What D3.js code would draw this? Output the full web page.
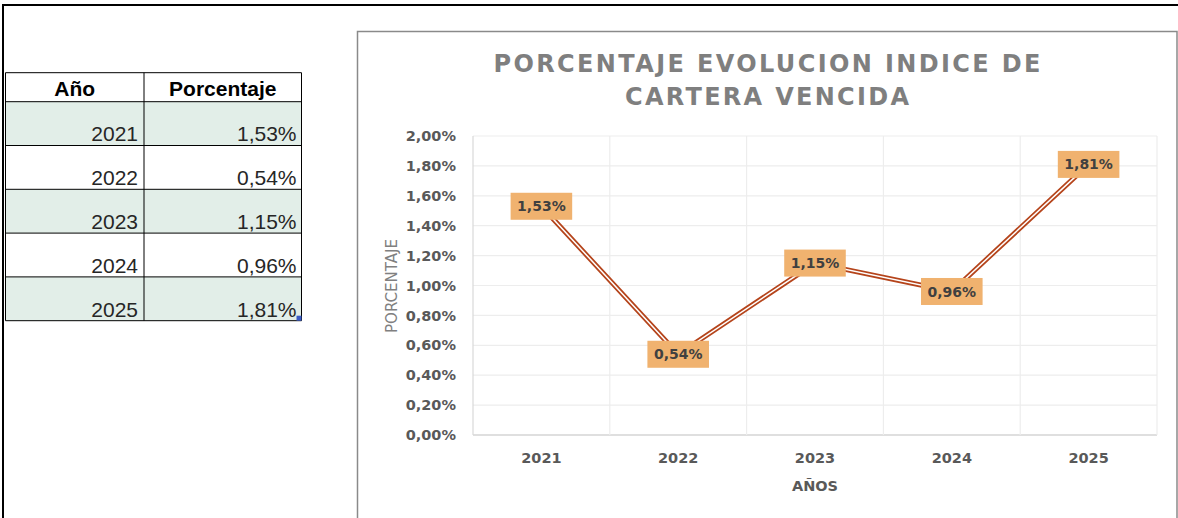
<!DOCTYPE html>
<html>
<head>
<meta charset="utf-8">
<script src="https://cdn.jsdelivr.net/npm/d3@7"></script>
<style>
  body { margin: 0; background: #fff; }
  svg { display: block; }
</style>
</head>
<body>
<div id="chart"></div>
<script>
// Data read from the sheet
var years  = ["2021", "2022", "2023", "2024", "2025"];
var values = [1.53, 0.54, 1.15, 0.96, 1.81];
var yTicks = [0, 0.2, 0.4, 0.6, 0.8, 1.0, 1.2, 1.4, 1.6, 1.8, 2.0];
var tableHeaders = ["Año", "Porcentaje"];
var titleLines = ["PORCENTAJE EVOLUCION INDICE DE", "CARTERA VENCIDA"];

var W = 1178, H = 518;

// Spanish number format: comma decimal
var es = d3.formatLocale({decimal: ",", thousands: ".", grouping: [3], currency: ["", "€"]});
var pct = function(v) { return es.format(".2f")(v) + "%"; };

var svg = d3.select('#chart').append('svg')
  .attr('width', W)
  .attr('height', H);

// Black frame of the screenshot
svg.append('line').attr('x1', 2).attr('x2', W).attr('y1', 5).attr('y2', 5)
  .attr('stroke', '#000').attr('stroke-width', 2);
svg.append('line').attr('x1', 3).attr('x2', 3).attr('y1', 4).attr('y2', H)
  .attr('stroke', '#000').attr('stroke-width', 2);

/*
 * Spreadsheet table on the left
 */
var tbl = {x0: 5.5, x1: 144, x2: 301.5, top: 72.7, headH: 29, rowH: 43.8};
var colX = [tbl.x0, tbl.x1, tbl.x2];
var table = svg.append('g').attr('class', 'table');

var rows = table.selectAll('g.row')
  .data(years.map(function(y, i) { return {year: y, value: values[i], i: i}; }))
  .enter().append('g')
  .attr('class', 'row')
  .attr('transform', function(d) { return 'translate(0,' + (tbl.top + tbl.headH + d.i * tbl.rowH) + ')'; });

rows.append('rect')
  .attr('x', tbl.x0).attr('width', tbl.x2 - tbl.x0)
  .attr('height', tbl.rowH)
  .attr('fill', function(d) { return d.i % 2 === 0 ? '#E2EEE8' : '#fff'; });

rows.append('text')
  .attr('x', tbl.x1 - 6).attr('y', tbl.rowH - 4)
  .attr('text-anchor', 'end')
  .style('font', '21px "Liberation Sans", Arial, sans-serif')
  .style('fill', '#262626')
  .text(function(d) { return d.year; });

rows.append('text')
  .attr('x', tbl.x2 - 5).attr('y', tbl.rowH - 4)
  .attr('text-anchor', 'end')
  .style('font', '21px "Liberation Sans", Arial, sans-serif')
  .style('fill', '#262626')
  .text(function(d) { return pct(d.value); });

table.selectAll('text.head')
  .data(tableHeaders)
  .enter().append('text')
  .attr('class', 'head')
  .attr('x', function(d, i) { return (colX[i] + colX[i + 1]) / 2; })
  .attr('y', tbl.top + 23)
  .attr('text-anchor', 'middle')
  .style('font', 'bold 21px "Liberation Sans", Arial, sans-serif')
  .style('fill', '#000')
  .text(function(d) { return d; });

// cell borders
var tblBottom = tbl.top + tbl.headH + years.length * tbl.rowH;
var hLines = [tbl.top, tbl.top + tbl.headH];
years.forEach(function(y, i) { hLines.push(tbl.top + tbl.headH + (i + 1) * tbl.rowH); });
table.selectAll('line.h').data(hLines).enter().append('line')
  .attr('x1', tbl.x0).attr('x2', tbl.x2)
  .attr('y1', function(d) { return d; }).attr('y2', function(d) { return d; })
  .attr('stroke', '#000').attr('stroke-width', 1);
table.selectAll('line.v').data(colX).enter().append('line')
  .attr('x1', function(d) { return d; }).attr('x2', function(d) { return d; })
  .attr('y1', tbl.top).attr('y2', tblBottom)
  .attr('stroke', '#000').attr('stroke-width', 1);
// selection fill handle
table.append('rect')
  .attr('x', tbl.x2 - 5).attr('y', tblBottom - 5)
  .attr('width', 5).attr('height', 5)
  .attr('fill', '#3B5CC4');

/*
 * Line chart
 */
svg.append('rect')
  .attr('x', 357.5).attr('y', 31.5)
  .attr('width', 1177 - 357.5).attr('height', H)
  .attr('fill', '#fff')
  .attr('stroke', '#8a8a8a').attr('stroke-width', 1.5);

var plot = {left: 473, right: 1157, top: 136, bottom: 435};

var x = d3.scaleBand()
  .domain(years)
  .range([plot.left, plot.right])
  .padding(0);
var y = d3.scaleLinear()
  .domain([0, 2])
  .range([plot.bottom, plot.top]);

var chart = svg.append('g').attr('class', 'chart');

// horizontal gridlines
chart.selectAll('line.hgrid').data(yTicks).enter().append('line')
  .attr('x1', plot.left).attr('x2', plot.right)
  .attr('y1', function(d) { return y(d); }).attr('y2', function(d) { return y(d); })
  .attr('stroke', function(d) { return d === 0 ? '#d4d4d4' : '#ededed'; })
  .attr('stroke-width', function(d) { return d === 0 ? 1.5 : 1.2; });

// vertical gridlines at category boundaries
var bounds = years.map(function(d) { return x(d); }).concat([x(years[years.length - 1]) + x.bandwidth()]);
chart.selectAll('line.vgrid').data(bounds).enter().append('line')
  .attr('x1', function(d) { return d; }).attr('x2', function(d) { return d; })
  .attr('y1', plot.top).attr('y2', plot.bottom)
  .attr('stroke', function(d, i) { return i === 0 ? '#d9d9d9' : '#ededed'; })
  .attr('stroke-width', 1.2);

// y axis
var yAxis = d3.axisLeft(y)
  .tickValues(yTicks)
  .tickSize(0)
  .tickPadding(17)
  .tickFormat(pct);
chart.append('g')
  .attr('transform', 'translate(' + plot.left + ',0)')
  .call(yAxis)
  .call(function(g) { g.select('.domain').remove(); })
  .selectAll('text')
  .style('font', 'bold 14.5px "DejaVu Sans", sans-serif')
  .style('fill', '#595959');

// x axis
var xAxis = d3.axisBottom(x)
  .tickSize(0)
  .tickPadding(18);
chart.append('g')
  .attr('transform', 'translate(0,' + plot.bottom + ')')
  .call(xAxis)
  .call(function(g) { g.select('.domain').remove(); })
  .selectAll('text')
  .style('font', 'bold 14.5px "DejaVu Sans", sans-serif')
  .style('fill', '#595959');

// axis titles
chart.append('text')
  .attr('transform', 'translate(397,286) rotate(-90)')
  .attr('text-anchor', 'middle')
  .style('font', '15px "DejaVu Sans", sans-serif')
  .style('fill', '#808080')
  .text('PORCENTAJE');
chart.append('text')
  .attr('x', (plot.left + plot.right) / 2).attr('y', 491)
  .attr('text-anchor', 'middle')
  .style('font', 'bold 14.5px "DejaVu Sans", sans-serif')
  .style('fill', '#595959')
  .text('AÑOS');

// title
var titleLen = [547, 284];
chart.selectAll('text.title').data(titleLines).enter().append('text')
  .attr('class', 'title')
  .attr('x', 767).attr('y', function(d, i) { return 72 + i * 33; })
  .attr('text-anchor', 'middle')
  .attr('textLength', function(d, i) { return titleLen[i]; })
  .attr('lengthAdjust', 'spacing')
  .style('font', 'bold 24px "DejaVu Sans", sans-serif')
  .style('fill', '#7f7f7f')
  .text(function(d) { return d; });

// double (compound) line
var pts = years.map(function(d, i) { return [x(d) + x.bandwidth() / 2, y(values[i])]; });
var line = d3.line();
chart.append('path')
  .attr('d', line(pts))
  .attr('fill', 'none')
  .attr('stroke', '#B5441B')
  .attr('stroke-width', 5)
  .attr('stroke-linejoin', 'miter');
chart.append('path')
  .attr('d', line(pts))
  .attr('fill', 'none')
  .attr('stroke', '#fff')
  .attr('stroke-width', 1.5);

// data labels centered on points
var lab = chart.selectAll('g.lab').data(pts).enter().append('g')
  .attr('class', 'lab')
  .attr('transform', function(d) { return 'translate(' + d[0] + ',' + d[1] + ')'; });
var labText = lab.append('text')
  .attr('text-anchor', 'middle')
  .attr('dy', '0.36em')
  .style('font', 'bold 14px "DejaVu Sans", sans-serif')
  .style('fill', '#404040')
  .text(function(d, i) { return pct(values[i]); });
lab.insert('rect', 'text')
  .each(function(d, i) {
    var w = labText.nodes()[i].getComputedTextLength() + 13;
    d3.select(this)
      .attr('x', -w / 2).attr('y', -13.5)
      .attr('width', w).attr('height', 27);
  })
  .attr('fill', '#F0B26F');
</script>
</body>
</html>
